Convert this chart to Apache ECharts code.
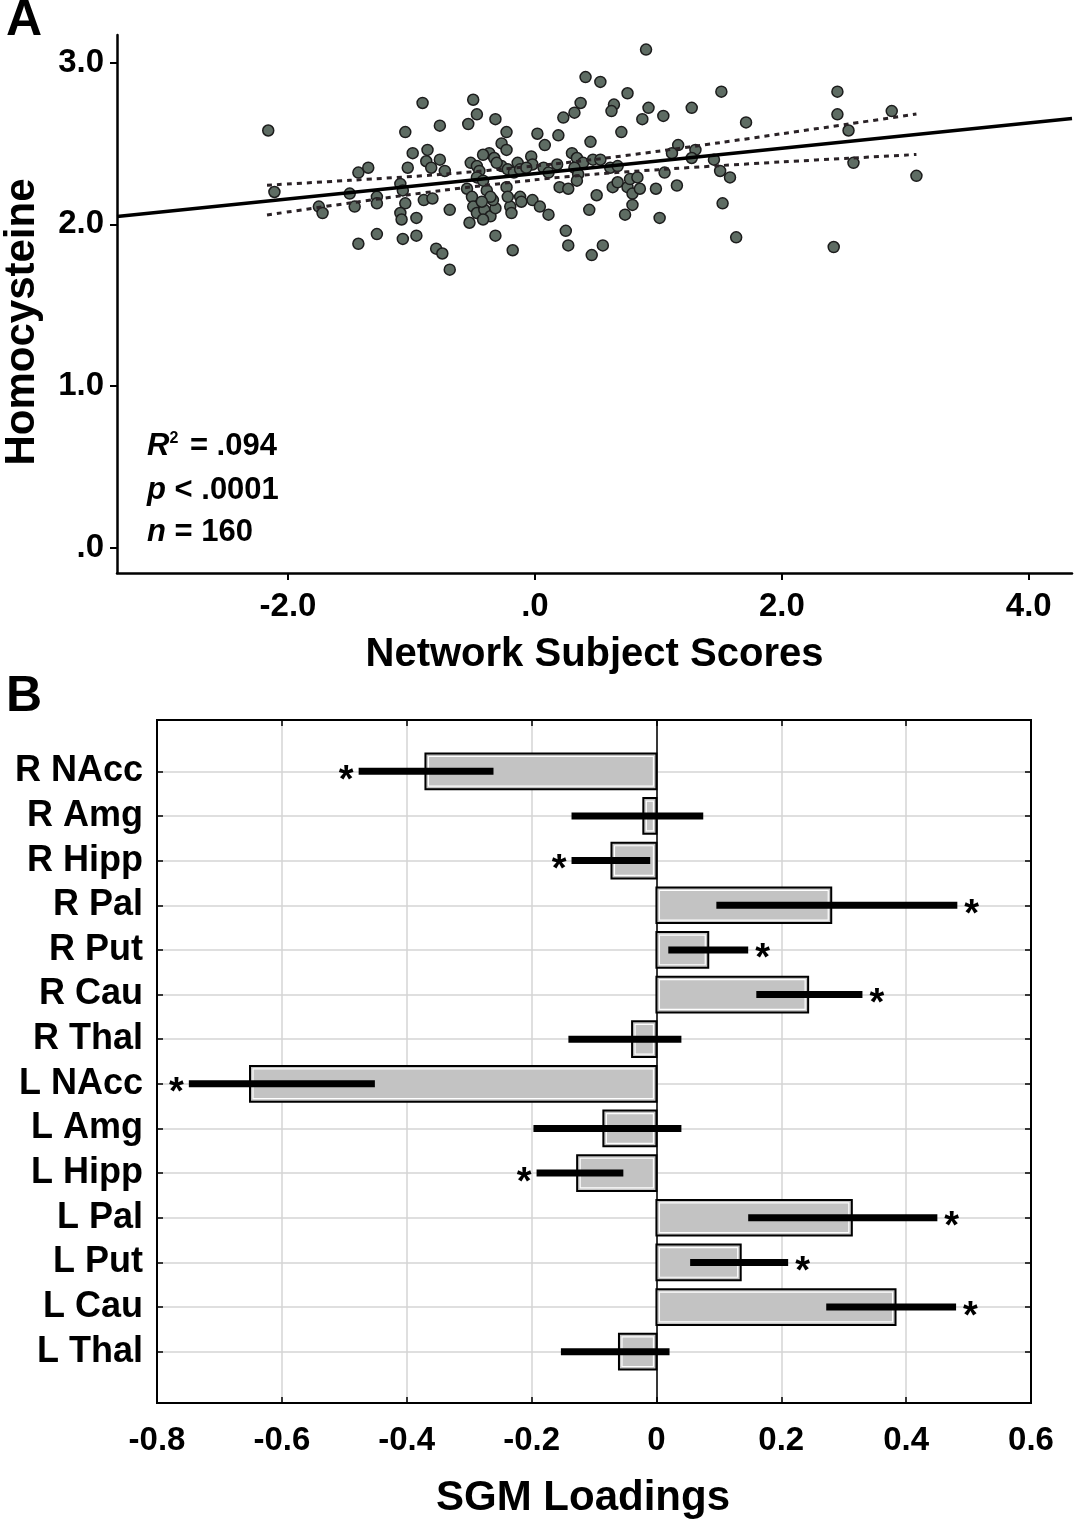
<!DOCTYPE html>
<html><head><meta charset="utf-8">
<script src="https://cdn.jsdelivr.net/npm/echarts@6/dist/echarts.min.js"></script>
<style>html,body{margin:0;padding:0;background:#fff}#c{width:1075px;height:1522px}</style>
</head><body><div id="c"></div>
<script>
// ---------- Panel A data ----------
const scoreX = [-2.16,-2.11,-1.75,-1.72,-1.50,-1.46,-1.43,-1.35,-1.28,-1.28,-1.43,-1.28,-1.05,-0.91,-0.77,-0.99,-0.87,-0.88,-0.84,-1.03,-0.77,-0.73,-1.09,-1.07,-1.05,-1.09,-1.08,-0.96,-0.90,-0.83,-1.07,-0.96,-0.80,-0.75,-0.69,-0.69,
-0.50,-0.47,-0.54,-0.32,-0.23,-0.27,-0.23,0.02,0.08,0.19,0.45,0.70,0.41,0.53,0.75,0.37,0.32,0.23,0.64,0.62,0.92,0.87,1.04,1.27,1.51,1.71,0.90,
-0.52,-0.47,-0.45,-0.47,-0.37,-0.33,-0.27,-0.22,-0.17,-0.14,-0.12,-0.03,-0.02,0.07,0.11,0.18,0.30,0.34,0.39,0.32,0.35,0.47,0.53,0.61,0.67,
0.20,0.27,0.34,0.63,0.67,0.75,0.79,0.77,0.83,0.50,0.44,0.73,0.79,
-0.55,-0.51,-0.50,-0.47,-0.41,-0.36,-0.32,-0.34,-0.53,-0.42,-0.39,-0.36,-0.12,-0.20,-0.19,-0.02,0.04,0.11,-0.11,
-0.32,-0.18,0.25,0.27,0.46,0.55,
1.16,1.11,1.30,1.27,1.45,1.50,1.58,1.05,0.98,1.15,0.85,1.52,1.01,1.63,
2.45,2.45,2.89,2.54,2.58,3.09,2.42,-0.42,
-0.42,-0.31,-0.07,-0.43,-0.23,-0.22];
const homocysteine = [2.58,2.20,2.11,2.07,2.19,2.11,2.32,2.35,2.17,2.13,1.88,1.94,2.57,2.75,2.61,2.44,2.46,2.39,2.35,2.35,2.40,2.33,2.25,2.21,2.13,2.07,2.03,2.04,2.15,2.16,1.91,1.93,1.85,1.82,1.72,2.09,
2.77,2.68,2.62,2.65,2.57,2.50,2.46,2.56,2.49,2.55,2.51,2.57,2.91,2.88,2.81,2.75,2.69,2.66,2.74,2.70,2.72,2.65,2.67,2.72,2.82,2.63,3.08,
2.38,2.36,2.33,2.29,2.44,2.41,2.36,2.34,2.32,2.38,2.34,2.42,2.37,2.35,2.32,2.37,2.44,2.41,2.38,2.35,2.31,2.40,2.40,2.35,2.36,
2.23,2.22,2.27,2.23,2.26,2.23,2.19,2.28,2.29,2.18,2.09,2.06,2.12,
2.22,2.17,2.11,2.07,2.09,2.05,2.10,2.15,2.01,2.03,2.21,2.17,2.17,2.11,2.07,2.15,2.11,2.06,2.14,
1.93,1.84,1.96,1.87,1.81,1.87,
2.49,2.44,2.46,2.41,2.40,2.33,2.29,2.32,2.22,2.24,2.22,2.13,2.04,1.92,
2.82,2.68,2.70,2.58,2.38,2.30,1.86,2.27,
2.43,2.38,2.35,2.14,2.23,2.17];
const fitX = [-3.385, 4.35];
const fitY = [2.049, 2.654];
const bandX     = [-2.17, -1.50, -0.77, 0.00, 0.50, 1.00, 1.50, 2.00, 2.55, 3.09];
const bandUpper = [2.242, 2.272, 2.308, 2.361, 2.403, 2.452, 2.505, 2.560, 2.621, 2.682];
const bandLower = [2.058, 2.132, 2.208, 2.275, 2.311, 2.338, 2.363, 2.386, 2.409, 2.432];
const xTicksA = [-2, 0, 2, 4];
const xTickLabelsA = ['-2.0', '.0', '2.0', '4.0'];
const yTicksA = [0, 1, 2, 3];
const yTickLabelsA = ['.0', '1.0', '2.0', '3.0'];

// ---------- Panel B data ----------
const regions = ['R NAcc','R Amg','R Hipp','R Pal','R Put','R Cau','R Thal','L NAcc','L Amg','L Hipp','L Pal','L Put','L Cau','L Thal'];
const loadings = [-0.370,-0.021,-0.072,0.280,0.083,0.243,-0.039,-0.651,-0.085,-0.127,0.313,0.135,0.383,-0.060];
const ciLow  = [-0.477,-0.136,-0.136,0.096,0.019,0.160,-0.141,-0.749,-0.197,-0.192,0.147,0.054,0.272,-0.153];
const ciHigh = [-0.261,0.075,-0.010,0.482,0.147,0.330,0.040,-0.451,0.040,-0.053,0.450,0.211,0.480,0.021];
const significant = [1,0,1,1,1,1,0,1,0,1,1,1,1,0];

const FONT = '"Liberation Sans", Arial, sans-serif';
const chart = echarts.init(document.getElementById('c'), null, {renderer: 'canvas'});

const rowIdx = regions.map((r, i) => i);
const lab = (v, ticks, labels) => { const k = ticks.findIndex(t => Math.abs(t - v) < 1e-6); return k >= 0 ? labels[k] : ''; };

const option = {
  animation: false,
  backgroundColor: '#fff',
  grid: [
    {left: 117, top: 35, width: 955, height: 538},
    {left: 157, top: 720, width: 874, height: 683, show: true, borderColor: '#000', borderWidth: 2, backgroundColor: 'transparent'}
  ],
  xAxis: [
    {gridIndex: 0, type: 'value', min: -3.385, max: 4.35,
     axisLine: {show: true, onZero: false, lineStyle: {color: '#000', width: 2.5}},
     axisTick: {show: true, length: 7, lineStyle: {color: '#000', width: 2}, customValues: xTicksA},
     axisLabel: {customValues: xTicksA, formatter: v => lab(v, xTicksA, xTickLabelsA), fontFamily: FONT, fontWeight: 'bold', fontSize: 33, color: '#000', margin: 17},
     splitLine: {show: false},
     name: 'Network Subject Scores', nameLocation: 'middle', nameGap: 62,
     nameTextStyle: {fontFamily: FONT, fontWeight: 'bold', fontSize: 40, color: '#000'}},
    {gridIndex: 1, type: 'value', min: -0.8, max: 0.6, interval: 0.2,
     axisLine: {show: true, onZero: false, lineStyle: {color: '#000', width: 2}},
     axisTick: {show: true, inside: true, length: 6, lineStyle: {color: '#000', width: 1.5}},
     axisLabel: {fontFamily: FONT, fontWeight: 'bold', fontSize: 33, color: '#000', margin: 21,
       formatter: v => (Math.abs(v) < 1e-9 ? '0' : (Math.round(v * 10) / 10).toString())},
     splitLine: {show: true, lineStyle: {color: '#d4d4d4', width: 1.5}},
     name: 'SGM Loadings', nameLocation: 'middle', nameGap: 74,
     nameTextStyle: {fontFamily: FONT, fontWeight: 'bold', fontSize: 42, color: '#000', padding: [0, 22, 0, 0]}},
    {gridIndex: 1, type: 'value', position: 'top', min: -0.8, max: 0.6, interval: 0.2,
     axisLine: {show: true, onZero: false, lineStyle: {color: '#000', width: 2}},
     axisTick: {show: true, inside: true, length: 6, lineStyle: {color: '#000', width: 1.5}},
     axisLabel: {show: false}, splitLine: {show: false}}
  ],
  yAxis: [
    {gridIndex: 0, type: 'value', min: -0.154, max: 3.17,
     axisLine: {show: true, onZero: false, lineStyle: {color: '#000', width: 2.5}},
     axisTick: {show: true, length: 7, lineStyle: {color: '#000', width: 2}, customValues: yTicksA},
     axisLabel: {customValues: yTicksA, formatter: v => lab(v, yTicksA, yTickLabelsA), fontFamily: FONT, fontWeight: 'bold', fontSize: 33, color: '#000', margin: 13},
     splitLine: {show: false}},
    {gridIndex: 1, type: 'value', inverse: true, min: -1.15, max: 14.15,
     axisLine: {show: true, onZero: false, lineStyle: {color: '#000', width: 2}},
     axisTick: {show: true, inside: true, length: 6, lineStyle: {color: '#000', width: 1.5}, customValues: rowIdx},
     axisLabel: {customValues: rowIdx, formatter: v => regions[Math.round(v)] || '', fontFamily: FONT, fontWeight: 'bold', fontSize: 36, color: '#000', margin: 14},
     splitLine: {show: true, lineStyle: {color: '#d4d4d4', width: 1.5}}},
    {gridIndex: 1, type: 'value', position: 'right', inverse: true, min: -1.15, max: 14.15,
     axisLine: {show: true, onZero: false, lineStyle: {color: '#000', width: 2}},
     axisTick: {show: true, inside: true, length: 6, lineStyle: {color: '#000', width: 1.5}, customValues: rowIdx},
     axisLabel: {show: false}, splitLine: {show: false}}
  ],
  series: [
    {type: 'scatter', xAxisIndex: 0, yAxisIndex: 0, z: 2,
     data: scoreX.map((x, i) => [x, homocysteine[i]]),
     symbolSize: 11,
     itemStyle: {color: '#5e6c63', borderColor: '#1c1c1c', borderWidth: 1.5, opacity: 1}},
    {type: 'line', xAxisIndex: 0, yAxisIndex: 0, z: 4, symbol: 'none', smooth: 0.3,
     data: bandX.map((x, i) => [x, bandUpper[i]]),
     lineStyle: {color: '#2a2226', width: 3, type: [5, 5]}},
    {type: 'line', xAxisIndex: 0, yAxisIndex: 0, z: 4, symbol: 'none', smooth: 0.3,
     data: bandX.map((x, i) => [x, bandLower[i]]),
     lineStyle: {color: '#2a2226', width: 3, type: [5, 5]}},
    {type: 'line', xAxisIndex: 0, yAxisIndex: 0, z: 5, symbol: 'none',
     data: fitX.map((x, i) => [x, fitY[i]]),
     lineStyle: {color: '#000', width: 3.5}},
    {type: 'custom', xAxisIndex: 1, yAxisIndex: 1, z: 5,
     data: regions.map((r, i) => [i, loadings[i], ciLow[i], ciHigh[i], significant[i]]),
     encode: {x: [1, 2, 3], y: 0},
     renderItem: function (params, api) {
       const i = api.value(0), v = api.value(1), lo = api.value(2), hi = api.value(3), sig = api.value(4);
       const p0 = api.coord([0, i]), pv = api.coord([v, i]), pl = api.coord([lo, i]), ph = api.coord([hi, i]);
       const h = api.size([0, 1])[1] * 0.8;
       const x0 = Math.min(p0[0], pv[0]), w = Math.abs(pv[0] - p0[0]);
       const ch = [
         {type: 'rect', shape: {x: x0, y: p0[1] - h / 2, width: w, height: h}, style: {fill: '#c3c3c3', stroke: '#000', lineWidth: 2}},
         {type: 'rect', shape: {x: x0 + 3, y: p0[1] - h / 2 + 3, width: Math.max(w - 6, 0), height: h - 6}, style: {fill: null, stroke: '#fff', lineWidth: 1.2}},
         {type: 'line', shape: {x1: pl[0], y1: pl[1], x2: ph[0], y2: ph[1]}, style: {stroke: '#000', lineWidth: 7}}
       ];
       if (sig) {
         const left = v < 0;
         ch.push({type: 'text', style: {text: '*', x: left ? pl[0] - 5 : ph[0] + 7, y: pl[1] + 10,
           align: left ? 'right' : 'left', verticalAlign: 'middle', font: 'bold 38px ' + FONT, fill: '#000'}});
       }
       return {type: 'group', children: ch};
     },
     markLine: {silent: true, symbol: 'none', label: {show: false}, lineStyle: {color: '#000', width: 1.5, type: 'solid'},
       data: [{xAxis: 0}]}}
  ],
  graphic: [
    {type: 'text', left: 6, top: -4, style: {text: 'A', font: 'bold 50px ' + FONT, fill: '#000'}},
    {type: 'text', left: 6, top: 672, style: {text: 'B', font: 'bold 50px ' + FONT, fill: '#000'}},
    {type: 'text', x: 22, y: 322, rotation: Math.PI / 2, style: {text: 'Homocysteine', font: 'bold 42px ' + FONT, fill: '#000', align: 'center', verticalAlign: 'middle'}},
    {type: 'text', left: 147, top: 431, style: {text: '{i|R}{s|2} = .094', font: 'bold 31px ' + FONT, fill: '#000',
      rich: {i: {fontStyle: 'italic', fontWeight: 'bold', fontSize: 31, fontFamily: FONT}, s: {fontSize: 16, fontWeight: 'bold', fontFamily: FONT, verticalAlign: 'top', padding: [0, 3, 12, 0]}}}},
    {type: 'text', left: 147, top: 475, style: {text: '{i|p} < .0001', font: 'bold 31px ' + FONT, fill: '#000',
      rich: {i: {fontStyle: 'italic', fontWeight: 'bold', fontSize: 31, fontFamily: FONT}}}},
    {type: 'text', left: 147, top: 517, style: {text: '{i|n} = 160', font: 'bold 31px ' + FONT, fill: '#000',
      rich: {i: {fontStyle: 'italic', fontWeight: 'bold', fontSize: 31, fontFamily: FONT}}}}
  ]
};
chart.setOption(option);
</script></body></html>
